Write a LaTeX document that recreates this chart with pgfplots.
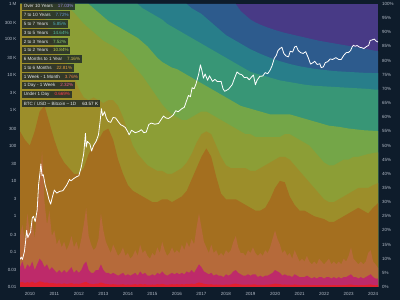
\documentclass[border=0pt]{standalone}
\usepackage{pgfplots}
\pgfplotsset{compat=1.18}
\usepackage{pgfplotstable}
\usepackage{fontspec}
\setmainfont{Liberation Sans}
\definecolor{bg}{HTML}{0E1C2B}
\definecolor{tickc}{HTML}{B4BCC8}
\definecolor{c10}{HTML}{483A86}
\definecolor{c9}{HTML}{2D5B8D}
\definecolor{c8}{HTML}{287E8A}
\definecolor{c7}{HTML}{389676}
\definecolor{c6}{HTML}{74A648}
\definecolor{c5}{HTML}{8C9E36}
\definecolor{c4}{HTML}{9C8E2A}
\definecolor{c3}{HTML}{A46F1F}
\definecolor{c2}{HTML}{B66A3A}
\definecolor{c1}{HTML}{BE2A6A}
\definecolor{c0}{HTML}{E02030}
\definecolor{v10}{HTML}{9A8AE0}
\definecolor{v9}{HTML}{6A9AD8}
\definecolor{v8}{HTML}{50B0C0}
\definecolor{v7}{HTML}{55C0A0}
\definecolor{v6}{HTML}{8ED070}
\definecolor{v5}{HTML}{BCD050}
\definecolor{v4}{HTML}{D4C050}
\definecolor{v3}{HTML}{E0A040}
\definecolor{v2}{HTML}{F08A50}
\definecolor{v1}{HTML}{F06090}
\definecolor{v0}{HTML}{FF4050}
\definecolor{legbg}{HTML}{1C2628}
\definecolor{legtxt}{HTML}{E4E8EC}

\pgfplotstableread{
u b4 b5 b6 b7 b8 b9 b10
2009.6 55 100 100 100 100 100 100
2009.8 52 100 100 100 100 100 100
2010.0 50 100 100 100 100 100 100
2010.2 55 100 100 100 100 100 100
2010.4 62 100 100 100 100 100 100
2010.6 64 96 100 100 100 100 100
2010.8 58 90 100 100 100 100 100
2011.0 52 85 100 100 100 100 100
2011.2 47 82 100 100 100 100 100
2011.4 44 80 100 100 100 100 100
2011.6 42 78 98.5 100 100 100 100
2011.8 40 74 97 100 100 100 100
2012.0 40 70 95 100 100 100 100
2012.2 42 67 93 100 100 100 100
2012.4 47 66 91.5 100 100 100 100
2012.6 50 67 90 98.5 100 100 100
2012.8 52 66 88.5 97 100 100 100
2013.0 55 65 87 95.5 100 100 100
2013.2 56 66 86 94 100 100 100
2013.4 52 66 85 93 100 100 100
2013.6 45 64 84 92 100 100 100
2013.8 40 60 82.5 91 100 100 100
2014.0 36 55 80.5 90 100 100 100
2014.2 34 50 78.5 89 100 100 100
2014.4 33 47 76.5 88 100 100 100
2014.6 32 45 74.5 86.5 98.5 100 100
2014.8 31 43 72 85 97.5 100 100
2015.0 30 42 69.5 83 96.5 100 100
2015.2 30 41 67 81 95.5 100 100
2015.4 31 41 64.5 79.5 94.5 100 100
2015.6 31 40 62.5 78.5 93 100 100
2015.8 30 40 61 77.5 92 100 100
2016.0 31 41 60 77 91 100 100
2016.2 32 42 59 76 90 100 100
2016.4 34 44 59 75 89 100 100
2016.6 38 47 60 74 88 98.5 100
2016.8 42 51 61 73 87 97.5 100
2017.0 46 54 62 72 86 96.5 100
2017.2 49 55 62 71 85 95 100
2017.4 46 54 61 70 84 93.5 100
2017.6 39 50 60 69 83 92 100
2017.8 33 46 59 68 82 90.5 100
2018.0 31 43 58 67 81 89 100
2018.2 31 42 57 66 80 88 100
2018.4 31 42 56 65 79 87 100
2018.6 30 42 55 64 78 86 97.5
2018.8 29 42 54 63.5 77 85 96
2019.0 28 41 54 63 76 84 94.5
2019.2 27 41 53 62.5 75.5 83.2 93.5
2019.4 27 42 53 62 75 82.4 92.7
2019.6 28 43 53 61.5 74.5 81.7 92
2019.8 31 44 53 61 74 81 91.4
2020.0 35 45 53 61 73.5 80.4 90.8
2020.2 37.5 46 53 61 73 79.8 90.3
2020.4 37 46 54 61 72.7 79.3 89.8
2020.6 32 45 54 61 72.4 78.8 89.4
2020.8 29 43 53 60.5 72.1 78.4 89
2021.0 27 41 52 60 71.8 78 88.6
2021.2 27 39 51 59.5 71.5 77.7 88.2
2021.4 26 37 50 59 71.3 77.4 87.8
2021.6 25 35 48 58.5 71.1 77.1 87.4
2021.8 24.5 33 46 58 71 76.9 87
2022.0 24 31 44 57.5 70.9 76.7 86.7
2022.2 23 30 43 57 70.8 76.5 86.4
2022.4 23 30 43 56.8 70.7 76.3 86.1
2022.6 24 31 44 56.6 70.6 76.2 85.8
2022.8 25 32 45 56.3 70.5 76.1 85.5
2023.0 26 33 45 56 70.4 76 85.2
2023.2 27 34 46 55.8 70.3 75.9 84.9
2023.4 28 35 46 55.6 70.2 75.8 84.6
2023.6 27 35 46.5 55.4 70.1 75.7 84.3
2023.8 26 35 47 55.3 70 75.7 84
2024.0 28 36 47.3 55.2 69.8 75.6 83.6
2024.2 29.6 36.7 47.6 55.1 69.7 75.6 83.3
}\uppertab

\pgfplotstableread{
u b1 b2 b3
2009.6 1.6 7 18
2009.7 1.8 9 22
2009.8 1.4 6 16
2009.9 1.7 8 26
2010.0 1.5 7 19
2010.1 1.9 9 24
2010.2 1.4 6 17
2010.3 1.6 8 28
2010.4 2.0 10 35
2010.5 1.8 9 48
2010.6 1.5 7 30
2010.7 1.6 8 22
2010.8 1.3 6 27
2010.9 1.4 7 18
2011.0 1.3 6 20
2011.1 1.2 5 15
2011.2 1.3 6 17
2011.3 1.1 5 14
2011.4 1.3 6 16
2011.5 1.1 5 13
2011.6 1.2 6 15
2011.7 1.4 7 18
2011.8 1.1 5 14
2011.9 1.2 6 16
2012.0 1.1 5 13
2012.1 1.3 6 17
2012.2 1.6 8 22
2012.3 1.8 9 28
2012.4 1.3 6 18
2012.5 1.1 5 15
2012.6 1.0 5 13
2012.7 1.2 6 14
2012.8 1.2 6 17
2012.9 1.6 8 26
2013.0 1.3 6 20
2013.1 1.1 5 16
2013.2 1.0 5 14
2013.3 0.9 4.5 12
2013.4 1.0 5 15
2013.5 0.9 4.5 13
2013.6 0.8 4 11
2013.7 0.9 4.5 12
2013.8 1.0 5 14
2013.9 0.8 4 11
2014.0 0.9 4.5 12
2014.1 0.8 4 10
2014.2 0.9 4.5 11
2014.3 1.0 5 13
2014.4 0.8 4 11
2014.5 1.1 5.5 15
2014.6 0.9 4.5 12
2014.7 1.0 5 13
2014.8 0.8 4 11
2014.9 0.8 4 10
2015.0 0.9 4.5 12
2015.1 0.8 4 11
2015.2 1.0 5 14
2015.3 0.9 4.5 12
2015.4 1.1 5.5 16
2015.5 0.9 4.5 13
2015.6 0.8 4 11
2015.7 0.9 4.5 12
2015.8 1.0 5 14
2015.9 0.9 4.5 12
2016.0 1.0 5 13
2016.1 0.9 4.5 12
2016.2 1.0 5 15
2016.3 0.9 4.5 13
2016.4 1.1 5.5 16
2016.5 1.0 5 14
2016.6 1.2 6 17
2016.7 1.0 5 15
2016.8 1.3 6.5 21
2016.9 1.6 8 26
2017.0 1.4 7 21
2017.1 1.1 5.5 16
2017.2 1.0 5 14
2017.3 0.9 4.5 12
2017.4 1.0 5 15
2017.5 0.8 4 12
2017.6 0.9 4.5 13
2017.7 0.8 4 11
2017.8 0.8 4 12
2017.9 0.7 3.5 11
2018.0 0.9 4.5 13
2018.1 0.8 4 12
2018.2 0.9 4.5 13
2018.3 1.1 5.5 16
2018.4 1.2 6 18
2018.5 1.0 5 14
2018.6 0.9 4.5 12
2018.7 0.8 4 12
2018.8 0.8 4 11
2018.9 0.9 4.5 13
2019.0 0.8 4 12
2019.1 0.9 4.5 14
2019.2 0.9 4.5 12
2019.3 0.7 3.5 11
2019.4 0.8 4 12
2019.5 0.7 3.5 11
2019.6 0.8 4 13
2019.7 0.8 4 12
2019.8 0.9 4.5 14
2019.9 1.0 5 17
2020.0 1.2 6 20
2020.1 1.1 5.5 17
2020.2 1.0 5 15
2020.3 0.8 4 12
2020.4 0.9 4.5 13
2020.5 0.8 4 11
2020.6 0.8 4 12
2020.7 0.7 3.5 10
2020.8 0.9 4.5 13
2020.9 0.8 4 11
2021.0 0.7 3.5 9
2021.1 0.7 3.5 10
2021.2 0.7 3.5 9
2021.3 0.8 4 11
2021.4 0.7 3.5 9
2021.5 0.6 3 8
2021.6 0.7 3.5 9
2021.7 0.6 3 8
2021.8 0.7 3.5 10
2021.9 0.7 3.5 9
2022.0 0.6 3 8
2022.1 0.7 3.5 9
2022.2 0.7 3.5 10
2022.3 0.6 3 8
2022.4 0.7 3.5 9
2022.5 0.6 3 8
2022.6 0.7 3.5 9
2022.7 0.6 3 8
2022.8 0.7 3.5 10
2022.9 0.7 3.5 9
2023.0 0.8 4 11
2023.1 0.9 4.5 14
2023.2 0.7 3.5 10
2023.3 0.7 3.5 9
2023.4 0.6 3 8
2023.5 0.7 3.5 9
2023.6 0.6 3 8
2023.7 0.7 3.5 9
2023.8 0.8 4 12
2023.9 0.9 4.5 13
2024.0 0.7 3.5 9
2024.1 0.6 3 8
2024.2 0.67 3.0 6.75
}\lowertab

\pgfplotstableread{
u p
2009.60 0.06
2009.65 0.07
2009.70 0.06
2009.78 0.10
2009.83 0.20
2009.87 0.40
2009.92 0.25
2009.97 0.30
2010.03 0.35
2010.10 0.90
2010.15 1.0
2010.22 0.7
2010.30 1.5
2010.36 8
2010.42 18
2010.45 30
2010.50 14
2010.55 15
2010.62 8
2010.70 5
2010.78 3
2010.85 2.2
2010.92 3.5
2011.00 5.5
2011.10 4.5
2011.20 5
2011.35 5.3
2011.50 7.5
2011.62 11
2011.68 10
2011.78 11.5
2011.90 13
2012.00 14
2012.10 25
2012.20 60
2012.27 220
2012.30 90
2012.35 130
2012.45 110
2012.52 70
2012.60 100
2012.70 130
2012.80 200
2012.87 500
2012.92 1100
2012.97 700
2013.05 900
2013.12 600
2013.20 480
2013.30 450
2013.40 620
2013.50 600
2013.60 480
2013.70 390
2013.80 360
2013.90 320
2014.00 240
2014.05 200
2014.15 270
2014.30 230
2014.45 250
2014.55 280
2014.65 230
2014.75 240
2014.85 390
2014.95 430
2015.10 400
2015.25 420
2015.45 680
2015.55 600
2015.65 580
2015.75 640
2015.85 730
2015.95 960
2016.05 900
2016.20 1100
2016.30 1200
2016.40 1900
2016.47 2600
2016.55 2400
2016.62 4300
2016.70 4000
2016.78 5600
2016.88 10000
2016.96 19000
2017.02 13000
2017.08 8000
2017.15 10500
2017.25 7000
2017.33 9300
2017.45 6500
2017.55 7400
2017.65 6400
2017.80 6500
2017.88 4000
2017.95 3400
2018.10 3900
2018.25 5200
2018.35 8000
2018.45 12000
2018.55 10500
2018.65 10000
2018.75 8300
2018.85 8500
2018.95 7200
2019.05 8800
2019.12 9800
2019.20 5200
2019.27 7000
2019.38 9000
2019.50 9200
2019.60 11500
2019.70 10700
2019.80 13500
2019.88 18000
2019.97 29000
2020.05 35000
2020.12 48000
2020.20 55000
2020.28 60000
2020.36 40000
2020.45 34000
2020.55 32000
2020.62 46000
2020.72 44000
2020.80 61000
2020.87 64000
2020.95 48000
2021.05 42000
2021.15 40000
2021.25 45000
2021.35 31000
2021.45 20000
2021.55 22000
2021.62 24000
2021.72 19500
2021.83 20500
2021.88 16000
2021.97 16600
2022.05 22000
2022.15 23500
2022.25 28000
2022.35 27000
2022.48 30500
2022.60 27000
2022.70 27000
2022.80 35000
2022.90 42000
2023.00 43000
2023.08 48000
2023.15 62000
2023.20 68000
2023.27 64000
2023.35 67000
2023.45 60000
2023.55 58000
2023.62 55000
2023.72 62000
2023.82 68000
2023.88 93000
2023.95 96000
2024.05 102000
2024.12 90000
2024.20 84000
}\pricetab

\tikzset{leg/.style={anchor=west, fill=legbg, fill opacity=0.82, text opacity=1,
  inner xsep=1.6bp, inner ysep=0bp, minimum height=7.4bp,
  font=\fontsize{4.6}{5}\selectfont, text=legtxt}}

\begin{document}
\begin{tikzpicture}
\fill[bg] (0,0) rectangle (400bp,300bp);
\begin{axis}[
  at={(20bp,13bp)}, anchor=south west, scale only axis,
  width=358bp, height=283bp,
  xmin=2009.6, xmax=2024.2, ymin=0, ymax=100,
  axis background/.style={fill=c10},
  axis line style={draw=none}, major tick length=0pt,
  /pgf/number format/assume math mode=true,
  xtick={2010,2011,...,2024},
  xticklabel={\pgfmathprintnumber[1000 sep={}]{\tick}},
  x tick label style={font=\fontsize{4.5}{5}\selectfont, text=tickc, yshift=-1.5bp},
  ytick={0,5,...,100},
  yticklabel pos=right,
  yticklabel={\pgfmathprintnumber{\tick}\%},
  y tick label style={font=\fontsize{4.5}{5}\selectfont, text=tickc, xshift=0.5bp},
]
\addplot[fill=c9, draw=none] table[x=u,y=b10]{\uppertab} \closedcycle;
\addplot[fill=c8, draw=none] table[x=u,y=b9]{\uppertab} \closedcycle;
\addplot[fill=c7, draw=none] table[x=u,y=b8]{\uppertab} \closedcycle;
\addplot[fill=c6, draw=none] table[x=u,y=b7]{\uppertab} \closedcycle;
\addplot[fill=c5, draw=none] table[x=u,y=b6]{\uppertab} \closedcycle;
\addplot[fill=c4, draw=none] table[x=u,y=b5]{\uppertab} \closedcycle;
\addplot[fill=c3, draw=none] table[x=u,y=b4]{\uppertab} \closedcycle;
\addplot[fill=c2, draw=none] table[x=u,y=b3]{\lowertab} \closedcycle;
\addplot[fill=c1, draw=none] table[x=u,y=b2]{\lowertab} \closedcycle;
\addplot[fill=c0, draw=none] table[x=u,y=b1]{\lowertab} \closedcycle;
\end{axis}
\begin{axis}[
  at={(20bp,13bp)}, anchor=south west, scale only axis,
  width=358bp, height=283bp,
  xmin=2009.6, xmax=2024.2, ymode=log, ymin=0.01, ymax=1000000,
  axis line style={draw=none}, major tick length=0pt,
  /pgf/number format/assume math mode=true,
  xtick=\empty,
  ytick={0.01,0.03,0.1,0.3,1,3,10,30,100,300,1000,3000,10000,30000,100000,300000,1000000},
  yticklabels={0.01,0.03,0.1,0.3,1,3,10,30,100,300,1 K,3 K,10 K,30 K,100 K,300 K,1 M},
  yticklabel pos=left,
  y tick label style={font=\fontsize{4.5}{5}\selectfont, text=tickc},
]
\addplot[white, line width=0.8pt, line join=round] table[x=u,y=p]{\pricetab};
\end{axis}
\node[leg] at (22bp,294bp) {Over 10 Years\hspace{5bp}\textcolor{v10}{17.03\%}};
\node[leg] at (22bp,285bp) {7 to 10 Years\hspace{5bp}\textcolor{v9}{7.72\%}};
\node[leg] at (22bp,276bp) {5 to 7 Years\hspace{5bp}\textcolor{v8}{5.85\%}};
\node[leg] at (22bp,267.2bp) {3 to 5 Years\hspace{5bp}\textcolor{v7}{14.64\%}};
\node[leg] at (22bp,258.4bp) {2 to 3 Years\hspace{5bp}\textcolor{v6}{7.52\%}};
\node[leg] at (22bp,249.6bp) {1 to 2 Years\hspace{5bp}\textcolor{v5}{10.84\%}};
\node[leg] at (22bp,240.8bp) {6 Months to 1 Year\hspace{5bp}\textcolor{v4}{7.16\%}};
\node[leg] at (22bp,232bp) {1 to 6 Months\hspace{5bp}\textcolor{v3}{22.81\%}};
\node[leg] at (22bp,223.2bp) {1 Week - 1 Month\hspace{5bp}\textcolor{v2}{3.76\%}};
\node[leg] at (22bp,214.4bp) {1 Day - 1 Week\hspace{5bp}\textcolor{v1}{2.32\%}};
\node[leg] at (22bp,205.6bp) {Under 1 Day\hspace{5bp}\textcolor{v0}{0.669\%}};
\node[leg] at (22bp,196.6bp) {BTC / USD -- Bitcoin -- 1D\hspace{6bp}\textcolor{white}{63.57 K}};
\pgfresetboundingbox
\useasboundingbox (0,0) rectangle (400bp,300bp);
\end{tikzpicture}
\end{document}
